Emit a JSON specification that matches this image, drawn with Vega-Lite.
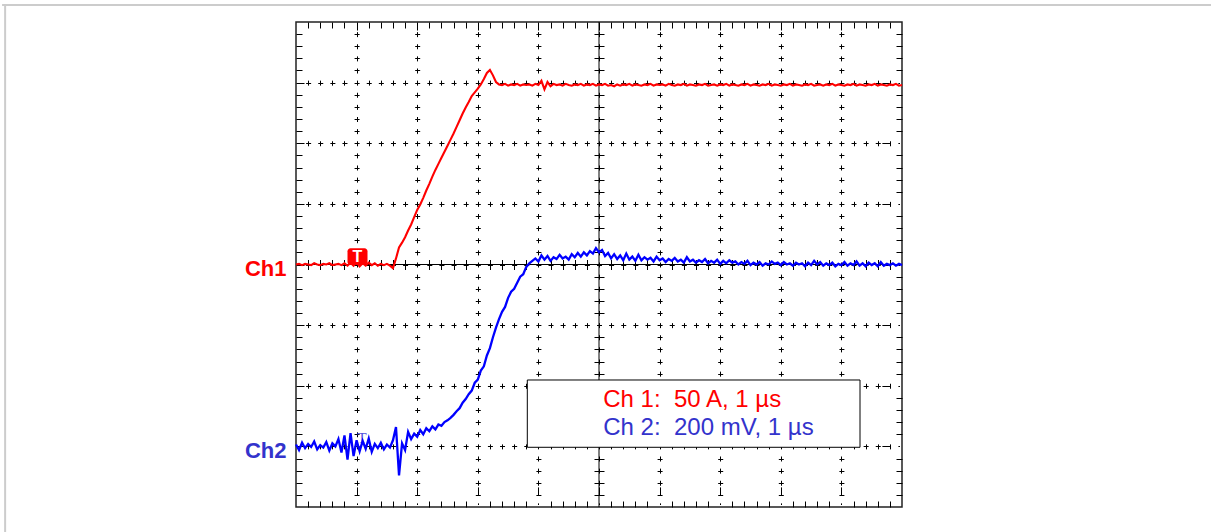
{
"$schema": "https://vega.github.io/schema/vega-lite/v6.json",
"width": 606, "height": 485,
"autosize": "none",
"padding": {"left": 296, "top": 22, "right": 309, "bottom": 25},
"background": "white",
"config": {"view": {"stroke": "#222", "strokeWidth": 1.5}, "font": "Liberation Sans"},
"data": {"values": [
{"t":0,"a":4.00,"b":1.03},{"t":0.05,"a":4.01,"b":0.94},{"t":0.1,"a":3.99,"b":1.06},{"t":0.15,"a":4.01,"b":0.97},{"t":0.2,"a":4.00,"b":1.04},
{"t":0.25,"a":3.99,"b":0.99},{"t":0.3,"a":4.02,"b":1.08},{"t":0.35,"a":4.00,"b":0.95},{"t":0.4,"a":3.99,"b":1.02},{"t":0.45,"a":4.01,"b":0.98},
{"t":0.5,"a":4.00,"b":1.07},{"t":0.55,"a":4.02,"b":0.93},{"t":0.6,"a":3.99,"b":1.05},{"t":0.65,"a":4.00,"b":1.00},{"t":0.7,"a":4.01,"b":1.12},
{"t":0.75,"a":3.99,"b":0.90},{"t":0.8,"a":4.02,"b":1.18},{"t":0.85,"a":3.98,"b":0.78},{"t":0.9,"a":4.03,"b":1.22},{"t":0.95,"a":3.98,"b":0.84},
{"t":1,"a":4.04,"b":1.10},{"t":1.05,"a":3.97,"b":0.92},{"t":1.1,"a":4.02,"b":1.09},{"t":1.15,"a":3.98,"b":0.96},{"t":1.2,"a":4.03,"b":1.13},
{"t":1.25,"a":3.99,"b":0.91},{"t":1.3,"a":4.02,"b":1.04},{"t":1.35,"a":3.98,"b":0.97},{"t":1.4,"a":4.01,"b":1.06},{"t":1.45,"a":3.99,"b":0.95},
{"t":1.5,"a":4.01,"b":1.03},{"t":1.55,"a":3.98,"b":0.98},{"t":1.6,"a":3.94,"b":1.10},{"t":1.65,"a":4.10,"b":1.32},{"t":1.7,"a":4.28,"b":0.52},
{"t":1.75,"a":4.36,"b":1.05},{"t":1.8,"a":4.45,"b":0.94},{"t":1.85,"a":4.56,"b":1.24},{"t":1.9,"a":4.66,"b":1.12},{"t":1.95,"a":4.78,"b":1.21},
{"t":2,"a":4.90,"b":1.16},{"t":2.05,"a":4.99,"b":1.27},{"t":2.1,"a":5.10,"b":1.20},{"t":2.15,"a":5.22,"b":1.30},{"t":2.2,"a":5.33,"b":1.25},
{"t":2.25,"a":5.45,"b":1.33},{"t":2.3,"a":5.56,"b":1.28},{"t":2.35,"a":5.66,"b":1.36},{"t":2.4,"a":5.76,"b":1.34},{"t":2.45,"a":5.86,"b":1.40},
{"t":2.5,"a":5.96,"b":1.43},{"t":2.55,"a":6.06,"b":1.47},{"t":2.6,"a":6.16,"b":1.52},{"t":2.65,"a":6.27,"b":1.58},{"t":2.7,"a":6.38,"b":1.63},
{"t":2.75,"a":6.49,"b":1.72},{"t":2.8,"a":6.59,"b":1.78},{"t":2.85,"a":6.68,"b":1.86},{"t":2.9,"a":6.78,"b":1.92},{"t":2.95,"a":6.84,"b":2.05},
{"t":3,"a":6.90,"b":2.10},{"t":3.05,"a":6.97,"b":2.25},{"t":3.1,"a":7.06,"b":2.32},{"t":3.15,"a":7.16,"b":2.50},{"t":3.2,"a":7.21,"b":2.62},
{"t":3.25,"a":7.12,"b":2.80},{"t":3.3,"a":7.01,"b":2.96},{"t":3.35,"a":6.97,"b":3.10},{"t":3.4,"a":6.96,"b":3.22},{"t":3.45,"a":6.98,"b":3.30},
{"t":3.5,"a":6.95,"b":3.45},{"t":3.55,"a":6.97,"b":3.55},{"t":3.6,"a":6.96,"b":3.60},{"t":3.65,"a":6.98,"b":3.70},{"t":3.7,"a":6.95,"b":3.80},
{"t":3.75,"a":6.97,"b":3.84},{"t":3.8,"a":6.96,"b":3.96},{"t":3.85,"a":6.97,"b":4.02},{"t":3.9,"a":6.95,"b":4.06},{"t":3.95,"a":6.98,"b":4.10},
{"t":4,"a":6.96,"b":4.05},{"t":4.05,"a":7.03,"b":4.15},{"t":4.1,"a":6.89,"b":4.08},{"t":4.15,"a":7.01,"b":4.14},{"t":4.2,"a":6.94,"b":4.06},
{"t":4.25,"a":6.98,"b":4.12},{"t":4.3,"a":6.96,"b":4.09},{"t":4.35,"a":6.97,"b":4.16},{"t":4.4,"a":6.95,"b":4.10},{"t":4.45,"a":6.98,"b":4.13},
{"t":4.5,"a":6.96,"b":4.08},{"t":4.55,"a":6.95,"b":4.17},{"t":4.6,"a":6.97,"b":4.12},{"t":4.65,"a":6.96,"b":4.19},{"t":4.7,"a":6.98,"b":4.13},
{"t":4.75,"a":6.95,"b":4.20},{"t":4.8,"a":6.97,"b":4.15},{"t":4.85,"a":6.96,"b":4.22},{"t":4.9,"a":6.98,"b":4.18},{"t":4.95,"a":6.95,"b":4.27},
{"t":5,"a":6.97,"b":4.20},{"t":5.05,"a":6.96,"b":4.24},{"t":5.1,"a":6.98,"b":4.14},{"t":5.15,"a":6.95,"b":4.19},{"t":5.2,"a":6.96,"b":4.10},
{"t":5.25,"a":6.94,"b":4.17},{"t":5.3,"a":6.97,"b":4.09},{"t":5.35,"a":6.95,"b":4.15},{"t":5.4,"a":6.97,"b":4.07},{"t":5.45,"a":6.96,"b":4.18},
{"t":5.5,"a":6.98,"b":4.08},{"t":5.55,"a":6.95,"b":4.13},{"t":5.6,"a":6.97,"b":4.06},{"t":5.65,"a":6.96,"b":4.16},{"t":5.7,"a":6.95,"b":4.07},
{"t":5.75,"a":6.97,"b":4.12},{"t":5.8,"a":6.96,"b":4.08},{"t":5.85,"a":6.98,"b":4.11},{"t":5.9,"a":6.95,"b":4.05},{"t":5.95,"a":6.97,"b":4.13},
{"t":6,"a":6.96,"b":4.07},{"t":6.05,"a":6.97,"b":4.10},{"t":6.1,"a":6.95,"b":4.04},{"t":6.15,"a":6.98,"b":4.09},{"t":6.2,"a":6.96,"b":4.06},
{"t":6.25,"a":6.95,"b":4.11},{"t":6.3,"a":6.97,"b":4.05},{"t":6.35,"a":6.96,"b":4.08},{"t":6.4,"a":6.98,"b":4.03},{"t":6.45,"a":6.95,"b":4.12},
{"t":6.5,"a":6.97,"b":4.05},{"t":6.55,"a":6.96,"b":4.08},{"t":6.6,"a":6.95,"b":4.03},{"t":6.65,"a":6.97,"b":4.07},{"t":6.7,"a":6.96,"b":4.04},
{"t":6.75,"a":6.98,"b":4.09},{"t":6.8,"a":6.95,"b":4.02},{"t":6.85,"a":6.96,"b":4.06},{"t":6.9,"a":6.97,"b":4.03},{"t":6.95,"a":6.95,"b":4.08},
{"t":7,"a":6.97,"b":4.01},{"t":7.05,"a":6.96,"b":4.06},{"t":7.1,"a":6.98,"b":4.02},{"t":7.15,"a":6.95,"b":4.07},{"t":7.2,"a":6.97,"b":4.03},
{"t":7.25,"a":6.96,"b":4.05},{"t":7.3,"a":6.95,"b":4.00},{"t":7.35,"a":6.97,"b":4.04},{"t":7.4,"a":6.96,"b":4.01},{"t":7.45,"a":6.98,"b":4.06},
{"t":7.5,"a":6.95,"b":3.99},{"t":7.55,"a":6.97,"b":4.03},{"t":7.6,"a":6.96,"b":4.00},{"t":7.65,"a":6.95,"b":4.04},{"t":7.7,"a":6.97,"b":3.98},
{"t":7.75,"a":6.96,"b":4.02},{"t":7.8,"a":6.98,"b":4.00},{"t":7.85,"a":6.95,"b":4.05},{"t":7.9,"a":6.97,"b":4.01},{"t":7.95,"a":6.96,"b":4.03},
{"t":8,"a":6.95,"b":3.99},{"t":8.05,"a":6.97,"b":4.04},{"t":8.1,"a":6.96,"b":4.00},{"t":8.15,"a":6.98,"b":4.02},{"t":8.2,"a":6.95,"b":3.98},
{"t":8.25,"a":6.97,"b":4.03},{"t":8.3,"a":6.96,"b":4.00},{"t":8.35,"a":6.95,"b":4.02},{"t":8.4,"a":6.97,"b":3.97},{"t":8.45,"a":6.96,"b":4.03},
{"t":8.5,"a":6.98,"b":3.99},{"t":8.55,"a":6.95,"b":4.06},{"t":8.6,"a":6.96,"b":4.00},{"t":8.65,"a":6.97,"b":4.04},{"t":8.7,"a":6.95,"b":3.98},
{"t":8.75,"a":6.97,"b":4.02},{"t":8.8,"a":6.96,"b":3.99},{"t":8.85,"a":6.98,"b":4.03},{"t":8.9,"a":6.95,"b":3.97},{"t":8.95,"a":6.97,"b":4.01},
{"t":9,"a":6.96,"b":3.99},{"t":9.05,"a":6.95,"b":4.04},{"t":9.1,"a":6.97,"b":3.98},{"t":9.15,"a":6.96,"b":4.02},{"t":9.2,"a":6.98,"b":3.99},
{"t":9.25,"a":6.95,"b":4.05},{"t":9.3,"a":6.97,"b":3.98},{"t":9.35,"a":6.96,"b":4.02},{"t":9.4,"a":6.95,"b":3.97},{"t":9.45,"a":6.97,"b":4.03},
{"t":9.5,"a":6.96,"b":3.99},{"t":9.55,"a":6.98,"b":4.02},{"t":9.6,"a":6.95,"b":3.97},{"t":9.65,"a":6.97,"b":4.04},{"t":9.7,"a":6.96,"b":3.98},
{"t":9.75,"a":6.95,"b":4.01},{"t":9.8,"a":6.97,"b":3.99},{"t":9.85,"a":6.96,"b":4.02},{"t":9.9,"a":6.98,"b":3.98},{"t":9.95,"a":6.95,"b":4.01},
{"t":10,"a":6.96,"b":3.99}
]},
"layer": [
{"data": {"values": [{}]}, "mark": {"type": "rule", "color": "#cccccc", "strokeWidth": 2, "clip": false},
 "encoding": {"x": {"datum": -4.85, "type": "quantitative"}, "x2": {"datum": 15.2}, "y": {"datum": 8.28, "type": "quantitative"}}},
{"data": {"values": [{}]}, "mark": {"type": "rule", "color": "#cccccc", "strokeWidth": 2, "clip": false},
 "encoding": {"x": {"datum": -4.8, "type": "quantitative"}, "y": {"datum": 8.29, "type": "quantitative"}, "y2": {"datum": -0.5}}},
{"data": {"values": [{}]}, "mark": {"type": "rule", "color": "black", "strokeWidth": 1},
 "encoding": {"x": {"datum": 5, "type": "quantitative"}}},
{"data": {"values": [{}]}, "mark": {"type": "rule", "color": "black", "strokeWidth": 1},
 "encoding": {"y": {"datum": 4, "type": "quantitative"}}},
{"mark": {"type": "line", "color": "#FF0000", "strokeWidth": 2.1},
 "encoding": {
  "x": {"field": "t", "type": "quantitative", "scale": {"domain": [0, 10], "nice": false, "zero": false},
   "axis": {"title": null, "orient": "bottom", "labels": false, "ticks": false, "domain": false, "grid": true, "tickCount": 500,
    "gridColor": "black", "gridWidth": 1, "gridOpacity": 1,
    "values": [0.2,0.4,0.6,0.8,1,1.2,1.4,1.6,1.8,2,2.2,2.4,2.6,2.8,3,3.2,3.4,3.6,3.8,4,4.2,4.4,4.6,4.8,5,5.2,5.4,5.6,5.8,6,6.2,6.4,6.6,6.8,7,7.2,7.4,7.6,7.8,8,8.2,8.4,8.6,8.8,9,9.2,9.4,9.6,9.8],
    "gridDash": {"condition": {"test": "abs(datum.value - round(datum.value)) < 0.01",
      "value": [8,1.625,5,7.125,5,7.125,5,7.125,5,7.125,5,7.125,5,7.125,5,7.125,5,7.125,5,7.125,5,7.125,5,7.125,5,7.125,5,7.125,5,7.125,5,7.125,5,7.125,5,7.125,5,7.125,5,7.125,5,7.125,5,7.125,5,7.125,5,7.125,5,7.125,5,7.125,5,7.125,5,7.125,5,7.125,5,7.125,5,7.125,5,7.125,5,7.125,5,7.125,5,7.125,5,7.125,5,7.125,5,7.125,5,1.625,8]},
     "value": [6,52.125,5,55.625,5,55.625,5,53.125,10,53.125,5,55.625,5,55.625,5,52.125,6]}}},
  "y": {"field": "a", "type": "quantitative", "scale": {"domain": [0, 8], "nice": false, "zero": false},
   "axis": {"title": null, "orient": "left", "ticks": false, "domain": false, "grid": true, "tickCount": 500,
    "gridColor": "black", "gridWidth": 1, "gridOpacity": 1,
    "values": [0.2,0.4,0.6,0.8,1,1.2,1.4,1.6,1.8,2,2.2,2.4,2.6,2.8,3,3.2,3.4,3.6,3.8,4,4.2,4.4,4.6,4.8,5,5.2,5.4,5.6,5.8,6,6.2,6.4,6.6,6.8,7,7.2,7.4,7.6,7.8],
    "labelExpr": "abs(datum.value - 4) < 0.01 ? 'Ch1' : (abs(datum.value - 1) < 0.01 ? 'Ch2' : '')",
    "labelColor": {"condition": {"test": "abs(datum.value - 4) < 0.01", "value": "#FF0000"}, "value": "#3333CC"},
    "labelFont": "Liberation Sans", "labelFontWeight": "bold", "labelFontSize": 22, "labelPadding": 10, "labelOffset": 4, "labelOverlap": false, "labelBound": false, "labelFlush": false,
    "gridDash": {"condition": {"test": "abs(datum.value - round(datum.value)) < 0.01",
      "value": [8,1.62,5,7.12,5,7.12,5,7.12,5,7.12,5,7.12,5,7.12,5,7.12,5,7.12,5,7.12,5,7.12,5,7.12,5,7.12,5,7.12,5,7.12,5,7.12,5,7.12,5,7.12,5,7.12,5,7.12,5,7.12,5,7.12,5,7.12,5,7.12,5,7.12,5,7.12,5,7.12,5,7.12,5,7.12,5,7.12,5,7.12,5,7.12,5,7.12,5,7.12,5,7.12,5,7.12,5,7.12,5,7.12,5,7.12,5,7.12,5,7.12,5,7.12,5,7.12,5,7.12,5,7.12,5,7.12,5,7.12,5,7.12,5,1.62,8]},
     "value": [6,52.1,5,55.6,5,55.6,5,55.6,5,53.1,10,53.1,5,55.6,5,55.6,5,55.6,5,52.1,6]}}}
 }},
{"data": {"values": [{}]}, "mark": {"type": "rect", "color": "#FF0000", "cornerRadius": 3},
 "encoding": {"x": {"datum": 0.85, "type": "quantitative"}, "x2": {"datum": 1.18}, "y": {"datum": 3.99, "type": "quantitative"}, "y2": {"datum": 4.27}}},
{"data": {"values": [{}]}, "mark": {"type": "text", "color": "white", "font": "Liberation Sans", "fontWeight": "bold", "fontSize": 16, "align": "center", "baseline": "middle"},
 "encoding": {"x": {"datum": 1.015, "type": "quantitative"}, "y": {"datum": 4.125, "type": "quantitative"}, "text": {"value": "T"}}},
{"data": {"values": [{}]}, "mark": {"type": "text", "color": "#5555DD", "font": "Liberation Serif", "fontSize": 15, "align": "center", "baseline": "middle"},
 "encoding": {"x": {"datum": 1.09, "type": "quantitative"}, "y": {"datum": 1.14, "type": "quantitative"}, "text": {"value": "T"}}},
{"mark": {"type": "line", "color": "#0000FF", "strokeWidth": 2.3},
 "encoding": {"x": {"field": "t", "type": "quantitative"}, "y": {"field": "b", "type": "quantitative"}}},
{"data": {"values": [{}]}, "mark": {"type": "rect", "fill": "white", "stroke": "black", "strokeWidth": 1},
 "encoding": {"x": {"datum": 3.817, "type": "quantitative"}, "x2": {"datum": 9.307}, "y": {"datum": 2.095, "type": "quantitative"}, "y2": {"datum": 0.985}}},
{"data": {"values": [{}]}, "mark": {"type": "text", "color": "#FF0000", "font": "Liberation Sans", "fontSize": 24, "align": "left", "baseline": "alphabetic"},
 "encoding": {"x": {"datum": 5.07, "type": "quantitative"}, "y": {"datum": 1.65, "type": "quantitative"}, "text": {"value": "Ch 1:\u00a0 50 A, 1 µs"}}},
{"data": {"values": [{}]}, "mark": {"type": "text", "color": "#3333CC", "font": "Liberation Sans", "fontSize": 24, "align": "left", "baseline": "alphabetic"},
 "encoding": {"x": {"datum": 5.07, "type": "quantitative"}, "y": {"datum": 1.19, "type": "quantitative"}, "text": {"value": "Ch 2:\u00a0 200 mV, 1 µs"}}}
]
}
